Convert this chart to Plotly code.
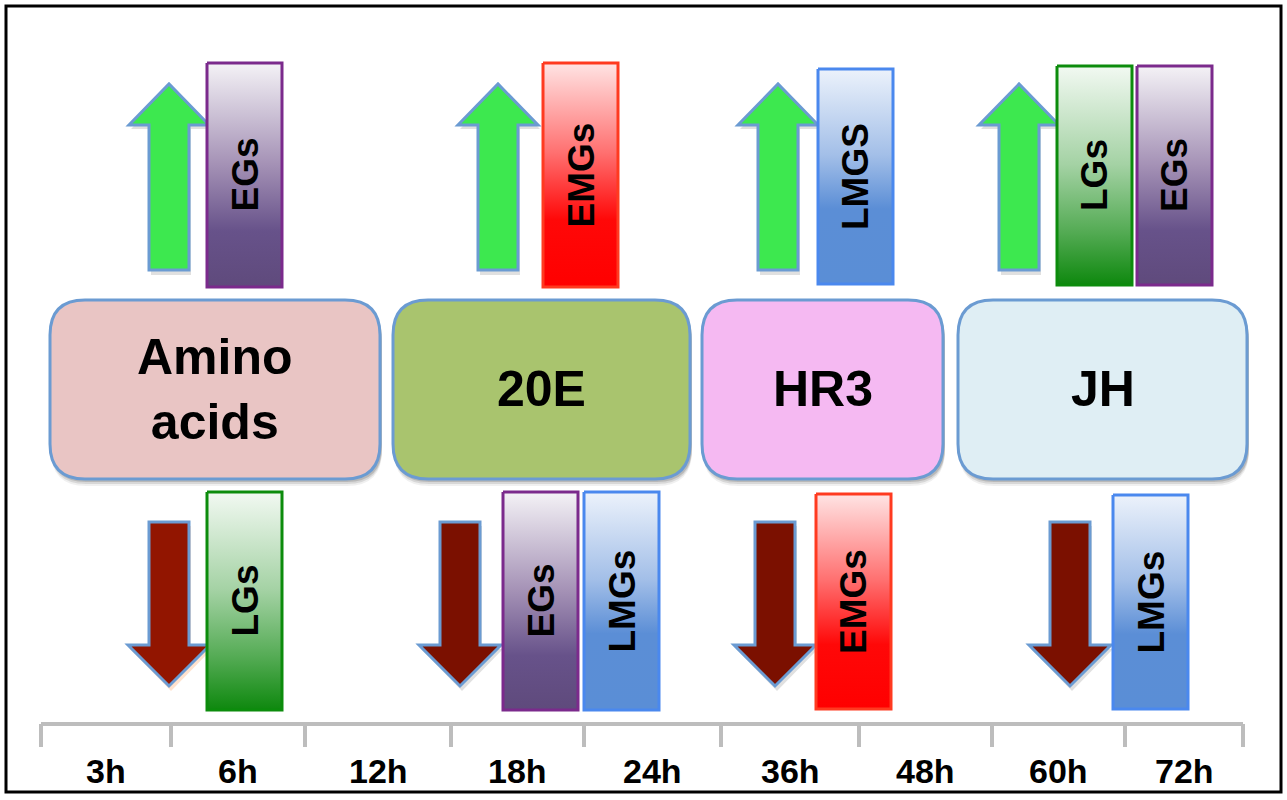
import plotly.graph_objects as go

# regulators shown in the rounded boxes, left to right
regulators = ["Amino<br>acids", "20E", "HR3", "JH"]
box_colors = ["#E9C5C4", "#A9C46E", "#F5B9F2", "#DFEEF4"]
box_x0 = [50, 393, 702, 958]
box_x1 = [380, 690, 943, 1247]

# genes induced (above) and repressed (below) by each regulator
up_genes = ["EGs", "EMGs", "LMGS", "LGs", "EGs"]
up_x0 = [207, 543, 818, 1057, 1137]
up_y0 = [63, 63, 69, 66, 66]
up_y1 = [287, 287, 284, 285, 285]
down_genes = ["LGs", "EGs", "LMGs", "EMGs", "LMGs"]
down_x0 = [207, 503, 584, 816, 1113]
down_y0 = [492, 492, 492, 494, 495]
down_y1 = [710, 710, 710, 709, 709]

up_arrow_x = [169, 498, 778, 1019]
down_arrow_x = [169, 460, 775, 1070]

# timeline
time_labels = ["3h", "6h", "12h", "18h", "24h", "36h", "48h", "60h", "72h"]
time_ticks = [41, 171, 305, 451, 584, 721, 859, 992, 1125, 1243]

W, H = 1287, 800
FONT = "Arial, Liberation Sans, sans-serif"
EDGE = "#6B9BD2"

gene_style = {
    "EGs": ("#7B2A8C", [[0, "#F4F2F6"], [0.45, "#A592B6"], [0.75, "#67528A"], [1, "#5F4A7C"]]),
    "LGs": ("#0C8C0C", [[0, "#F2F9F2"], [0.45, "#A4D2A4"], [0.75, "#56AC56"], [1, "#0E880E"]]),
    "EMGs": ("#FF3A20", [[0, "#FFE4E4"], [0.4, "#FF7070"], [0.7, "#FF0808"], [1, "#FF0000"]]),
    "LMGs": ("#4A88EE", [[0, "#ECF2FB"], [0.4, "#A3BFE8"], [0.65, "#5B8ED6"], [1, "#5A8ED6"]]),
}


def rrect(x0, y0, x1, y1, r):
    return (f"M{x0+r},{y0} L{x1-r},{y0} Q{x1},{y0} {x1},{y0+r} L{x1},{y1-r} "
            f"Q{x1},{y1} {x1-r},{y1} L{x0+r},{y1} Q{x0},{y1} {x0},{y1-r} "
            f"L{x0},{y0+r} Q{x0},{y0} {x0+r},{y0} Z")


def up_arrow(cx, tip=84, base=125, bottom=270, hw=40, sw=20):
    return (f"M{cx-sw},{bottom} L{cx-sw},{base} L{cx-hw},{base} L{cx},{tip} "
            f"L{cx+hw},{base} L{cx+sw},{base} L{cx+sw},{bottom} Z")


def down_arrow(cx, top=522, base=645, tip=686, hw=41, sw=20):
    return (f"M{cx-sw},{top} L{cx-sw},{base} L{cx-hw},{base} L{cx},{tip} "
            f"L{cx+hw},{base} L{cx+sw},{base} L{cx+sw},{top} Z")


shapes = []
annotations = []

# boxes with a soft drop shadow
for i, lab in enumerate(regulators):
    x0, x1 = box_x0[i], box_x1[i]
    for k, a in [(7, 0.06), (5, 0.1), (3, 0.14)]:
        shapes.append(dict(type="path", path=rrect(x0 + 1, 300 + k, x1 + 2, 479 + k, 35),
                           fillcolor=f"rgba(0,0,0,{a})", line=dict(width=0), layer="below"))
    shapes.append(dict(type="path", path=rrect(x0, 300, x1, 479, 35),
                       fillcolor=box_colors[i], line=dict(color=EDGE, width=3), layer="below"))
    annotations.append(dict(x=(x0 + x1) / 2, y=389, text=f"<b>{lab}</b>", showarrow=False,
                            font=dict(family=FONT, size=50, color="black")))

# arrows
for cx in up_arrow_x:
    shapes.append(dict(type="path", path=up_arrow(cx + 2, 88, 129, 275),
                       fillcolor="rgba(0,0,0,0.12)", line=dict(width=0), layer="below"))
    shapes.append(dict(type="path", path=up_arrow(cx),
                       fillcolor="#3DE84F", line=dict(color=EDGE, width=3), layer="below"))
for i, cx in enumerate(down_arrow_x):
    fill = "#921500" if i == 0 else "#7B1000"
    glow = "rgba(255,140,60,0.25)" if i == 0 else "rgba(0,0,0,0.12)"
    shapes.append(dict(type="path", path=down_arrow(cx + 2, 526, 649, 691),
                       fillcolor=glow, line=dict(width=0), layer="below"))
    shapes.append(dict(type="path", path=down_arrow(cx),
                       fillcolor=fill, line=dict(color=EDGE, width=3), layer="below"))

fig = go.Figure()

# gene bars with vertical gradients
def add_bar(label, x0, y0, y1):
    key = label.replace("LMGS", "LMGs")
    edge, scale = gene_style[key]
    x1 = x0 + 75
    fig.add_trace(go.Scatter(
        x=[x0, x1, x1, x0, x0], y=[y0, y0, y1, y1, y0],
        mode="lines", fill="toself",
        fillgradient=dict(type="vertical", colorscale=scale, start=y0, stop=y1),
        line=dict(color=edge, width=3), hoverinfo="skip",
    ))
    annotations.append(dict(x=(x0 + x1) / 2, y=(y0 + y1) / 2, text=f"<b>{label}</b>",
                            textangle=-90, showarrow=False,
                            font=dict(family=FONT, size=37, color="black")))

for lab, x0, y0, y1 in zip(up_genes, up_x0, up_y0, up_y1):
    add_bar(lab, x0, y0, y1)
for lab, x0, y0, y1 in zip(down_genes, down_x0, down_y0, down_y1):
    add_bar(lab, x0, y0, y1)

# timeline
shapes.append(dict(type="line", x0=time_ticks[0], x1=time_ticks[-1], y0=724, y1=724,
                   line=dict(color="#BDBDBD", width=4)))
for t in time_ticks:
    shapes.append(dict(type="line", x0=t, x1=t, y0=724, y1=747,
                       line=dict(color="#BDBDBD", width=4)))
for i, lab in enumerate(time_labels):
    annotations.append(dict(x=(time_ticks[i] + time_ticks[i + 1]) / 2, y=771,
                            text=f"<b>{lab}</b>", showarrow=False,
                            font=dict(family=FONT, size=34, color="black")))

# outer frame
shapes.append(dict(type="rect", x0=6, x1=1281, y0=6, y1=792,
                   line=dict(color="black", width=3)))

fig.update_layout(
    width=W, height=H,
    margin=dict(l=0, r=0, t=0, b=0),
    xaxis=dict(range=[0, W], visible=False, fixedrange=True),
    yaxis=dict(range=[H, 0], visible=False, fixedrange=True),
    plot_bgcolor="white", paper_bgcolor="white",
    showlegend=False,
    shapes=shapes,
    annotations=annotations,
)
fig.write_html("out.html", config={"displayModeBar": False},
               post_script="document.body.style.margin='0';document.body.style.overflow='hidden';")
